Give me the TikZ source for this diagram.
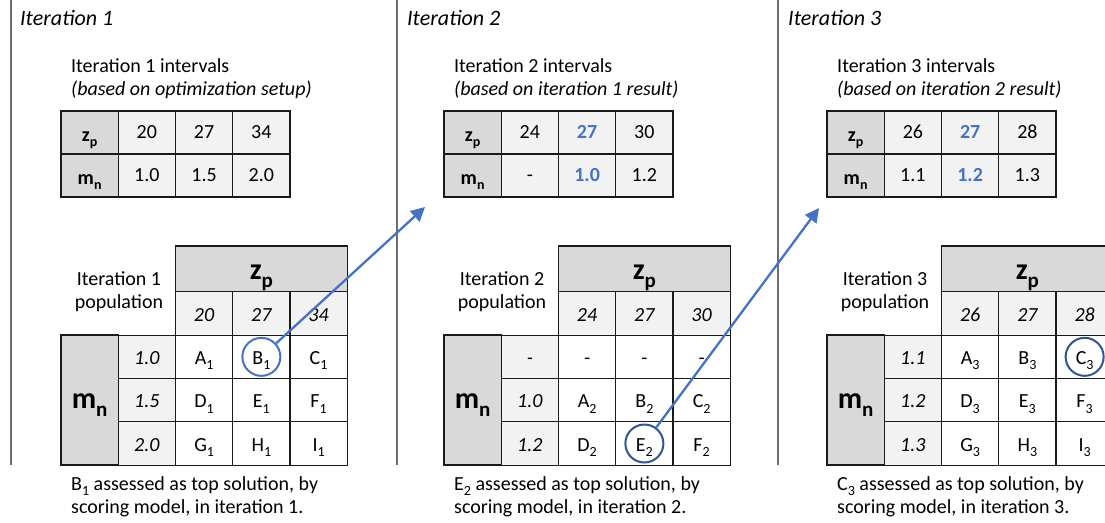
\documentclass[tikz,border=0pt]{standalone}
\usepackage{fontspec}
\setmainfont{Carlito}
\usetikzlibrary{arrows.meta}

\definecolor{hdrgray}{HTML}{D9D9D9}
\definecolor{palegray}{HTML}{F2F2F2}
\definecolor{accent}{HTML}{4472C4}
\definecolor{navy}{HTML}{2F5597}
\definecolor{rulegray}{HTML}{6E6E6E}
\definecolor{ink}{HTML}{1A1A1A}

\newcommand\txtsize{\fontsize{20}{23}\selectfont}
\newcommand\bigsz{\fontsize{30}{34}\selectfont\bfseries}
% letter with a lowered, slightly reduced index
\newcommand\lsub[2]{#1\raisebox{-0.28em}{\fontsize{0.7em}{0.8em}\selectfont #2}}

\tikzset{
  box/.style={draw=ink, line width=1.1pt, inner sep=0pt, outer sep=0pt,
              minimum width=57.25pt, minimum height=43pt, font=\txtsize},
  hdr/.style={box, fill=hdrgray},
  pale/.style={box, fill=palegray},
  blank/.style={box, fill=white},
  ival/.style={text height=12pt, text depth=0pt},
  ikey/.style={font=\txtsize\bfseries, text height=17pt, text depth=0pt},
  pval/.style={text height=15pt, text depth=0pt, minimum height=43.333pt},
  pit/.style={pval, font=\txtsize\itshape},
  txt/.style={font=\txtsize, inner sep=0pt, anchor=base west},
  txtc/.style={font=\txtsize, inner sep=0pt, anchor=base},
  heading/.style={font=\fontsize{22}{26}\selectfont\itshape, inner sep=0pt, anchor=base west},
  divider/.style={draw=rulegray, line width=1.2pt},
  ring/.style={circle, draw=navy, line width=2pt, minimum size=38pt, inner sep=0pt},
  link/.style={draw=accent, line width=2.3pt, -{Triangle[length=14pt,width=14pt]}},
}

% one row of the population grid: prefix, row index, three cell texts
\newcommand\cellrow[5]{%
  \node[blank,pval] (#1-#2-1) at (204.125,{313.5+43.333*#2}) {#3};
  \node[blank,pval] (#1-#2-2) at (261.375,{313.5+43.333*#2}) {#4};
  \node[blank,pval] (#1-#2-3) at (318.625,{313.5+43.333*#2}) {#5};}

% interval table: prefix, z values, m values
\newcommand\intervals[3]{%
  \node[hdr,ikey] (#1-zk) at (89.625,132.5) {\lsub{z}{p}};
  \node[hdr,ikey] (#1-mk) at (89.625,175.5) {\lsub{m}{n}};
  \foreach \v [count=\k] in {#2}
    \node[pale,ival] (#1-z\k) at ({89.625+57.25*\k},132.5) {\v};
  \foreach \v [count=\k] in {#3}
    \node[pale,ival] (#1-m\k) at ({89.625+57.25*\k},175.5) {\v};}

% population frame: prefix, z values, m values
\newcommand\popframe[3]{%
  \node[hdr, minimum width=171.75pt, minimum height=46pt, font=\bigsz,
        text height=20pt, text depth=0pt] (#1-zh) at (261.375,269) {\lsub{z}{p}};
  \foreach \v [count=\k] in {#2}
    \node[pale,pit] (#1-c\k) at ({89.625+57.25*(\k+1)},313.5) {\v};
  \node[hdr, minimum height=130pt, font=\bigsz, text height=16pt, text depth=0pt]
        (#1-mh) at (89.625,400) {\lsub{m}{n}};
  \foreach \v [count=\r] in {#3}
    \node[pale,pit] (#1-r\r) at (146.875,{313.5+43.333*\r}) {\v};}

\newcommand\hl[1]{\textcolor{accent}{\textbf{#1}}}

\begin{document}
\begin{tikzpicture}[x=1pt, y=-1pt]
\path[use as bounding box] (0,0) rectangle (1105,522);
\clip (0,0) rectangle (1105,522);

% column dividers
\draw[divider] (11,0) -- (11,465);
\draw[divider] (397,0) -- (397,465);
\draw[divider] (778,0) -- (778,465);

% headings
\node[heading] (it1) at (20,25) {Iteration 1};
\node[heading] (it2) at (407,25) {Iteration 2};
\node[heading] (it3) at (788,25) {Iteration 3};

% ---------- iteration 1 ----------
\begin{scope}
  \node[txt] (a-t1) at (71,72) {Iteration 1 intervals};
  \node[txt, font=\txtsize\itshape] (a-t2) at (71,95) {(based on optimization setup)};
  \intervals{a}{20,27,34}{1.0,1.5,2.0}
  \node[txtc] (a-l1) at (119,285) {Iteration 1};
  \node[txtc] (a-l2) at (119,308) {population};
  \popframe{a}{20,27,34}{1.0,1.5,2.0}
  \cellrow{a}{1}{\lsub{A}{1}}{\lsub{B}{1}}{\lsub{C}{1}}
  \cellrow{a}{2}{\lsub{D}{1}}{\lsub{E}{1}}{\lsub{F}{1}}
  \cellrow{a}{3}{\lsub{G}{1}}{\lsub{H}{1}}{\lsub{I}{1}}
  \node[txt] (a-n1) at (71,490) {\lsub{B}{1} assessed as top solution, by};
  \node[txt] (a-n2) at (71,513) {scoring model, in iteration 1.};
\end{scope}

% ---------- iteration 2 ----------
\begin{scope}[xshift=383pt]
  \node[txt] (b-t1) at (71,72) {Iteration 2 intervals};
  \node[txt, font=\txtsize\itshape] (b-t2) at (71,95) {(based on iteration 1 result)};
  \intervals{b}{24,\hl{27},30}{-,\hl{1.0},1.2}
  \node[txtc] (b-l1) at (119,285) {Iteration 2};
  \node[txtc] (b-l2) at (119,308) {population};
  \popframe{b}{24,27,30}{-,1.0,1.2}
  \cellrow{b}{1}{-}{-}{-}
  \cellrow{b}{2}{\lsub{A}{2}}{\lsub{B}{2}}{\lsub{C}{2}}
  \cellrow{b}{3}{\lsub{D}{2}}{\lsub{E}{2}}{\lsub{F}{2}}
  \node[txt] (b-n1) at (71,490) {\lsub{E}{2} assessed as top solution, by};
  \node[txt] (b-n2) at (71,513) {scoring model, in iteration 2.};
\end{scope}

% ---------- iteration 3 ----------
\begin{scope}[xshift=766pt]
  \node[txt] (c-t1) at (71,72) {Iteration 3 intervals};
  \node[txt, font=\txtsize\itshape] (c-t2) at (71,95) {(based on iteration 2 result)};
  \intervals{c}{26,\hl{27},28}{1.1,\hl{1.2},1.3}
  \node[txtc] (c-l1) at (119,285) {Iteration 3};
  \node[txtc] (c-l2) at (119,308) {population};
  \popframe{c}{26,27,28}{1.1,1.2,1.3}
  \cellrow{c}{1}{\lsub{A}{3}}{\lsub{B}{3}}{\lsub{C}{3}}
  \cellrow{c}{2}{\lsub{D}{3}}{\lsub{E}{3}}{\lsub{F}{3}}
  \cellrow{c}{3}{\lsub{G}{3}}{\lsub{H}{3}}{\lsub{I}{3}}
  \node[txt] (c-n1) at (71,490) {\lsub{C}{3} assessed as top solution, by};
  \node[txt] (c-n2) at (71,513) {scoring model, in iteration 3.};
\end{scope}

% selected solutions
\node[ring, draw=accent] (pick1) at (a-1-2.center) {};
\node[ring] (pick2) at (b-3-2.center) {};
\node[ring] (pick3) at (c-1-3.center) {};

% hand-over to the next iteration
\coordinate (next2) at (425,207);
\coordinate (next3) at (819,208);
\draw[link] (pick1) -- (next2);
\draw[link] (pick2) -- (next3);
\end{tikzpicture}
\end{document}
